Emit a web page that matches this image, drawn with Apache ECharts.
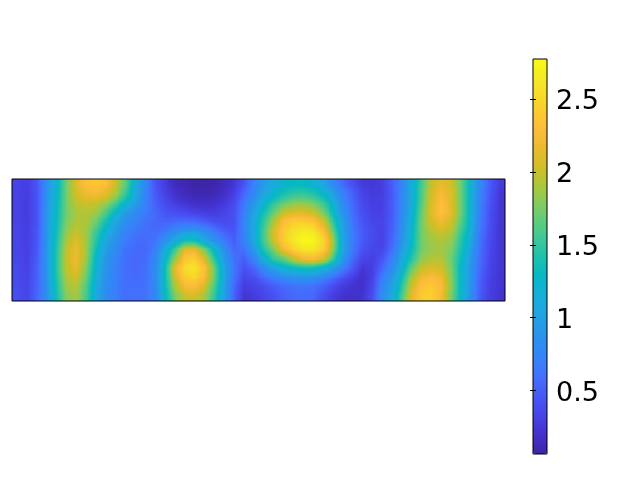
<!DOCTYPE html>
<html><head><meta charset="utf-8">
<script src="https://cdn.jsdelivr.net/npm/echarts@6/dist/echarts.min.js"></script>
<style>
html,body{margin:0;padding:0;background:#fff;width:640px;height:480px;overflow:hidden}
#heatWrap{position:absolute;left:12px;top:179px;width:493px;height:122px;overflow:hidden;filter:url(#parulaMap)}
#heat{width:500px;height:130px;transform-origin:0 0;transform:scale(0.986,0.93846)}
#over{position:absolute;left:0;top:0;width:640px;height:480px}
</style></head><body>
<svg width="0" height="0" style="position:absolute"><filter id="parulaMap" color-interpolation-filters="sRGB" x="0" y="0" width="100%" height="100%"><feComponentTransfer><feFuncR id="fr" type="table"/><feFuncG id="fg" type="table"/><feFuncB id="fb" type="table"/></feComponentTransfer></filter></svg>
<div id="heatWrap"><div id="heat"></div></div>
<div id="over"></div>
<script>
const colorTicks=[0.5,1,1.5,2,2.5];
const valueMin=0.065, valueMax=2.774;
const row0=[.34,.30,.46,.85,1.2,1.72,2.1,2.33,2.38,2.32,2.0,1.68,1.15,.78,.45,.28,.14,.10,.08,.07,.09,.15,.25,.45,.72,.95,1.1,1.22,1.3,1.3,1.2,1.05,.8,.58,.42,.28,.26,.3,.5,.72,1.1,1.55,2.0,2.15,2.05,1.7,1.22,.78,.5,.28];
const row1=[.33,.29,.45,.87,1.22,1.72,2.05,2.2,2.25,2.15,1.9,1.55,1.1,.75,.48,.32,.2,.15,.11,.1,.12,.19,.3,.55,.78,1.02,1.22,1.38,1.48,1.5,1.42,1.28,1.02,.72,.52,.33,.28,.3,.48,.74,1.1,1.6,2.05,2.25,2.1,1.7,1.22,.75,.48,.26];
const row2=[.33,.28,.45,.88,1.25,1.72,1.98,2.05,2.02,1.88,1.6,1.3,1.0,.72,.52,.38,.28,.22,.18,.17,.2,.26,.38,.65,.92,1.2,1.45,1.65,1.78,1.8,1.72,1.52,1.2,.82,.58,.38,.3,.32,.48,.76,1.1,1.62,2.08,2.33,2.12,1.7,1.2,.72,.45,.25];
const row3=[.33,.28,.45,.9,1.3,1.72,1.9,1.95,1.88,1.6,1.25,.98,.8,.68,.55,.45,.4,.36,.32,.28,.28,.33,.42,.7,1.02,1.35,1.68,1.98,2.08,2.1,2.0,1.75,1.35,.88,.6,.4,.32,.32,.48,.78,1.12,1.68,2.12,2.35,2.15,1.7,1.2,.7,.43,.24];
const row4=[.34,.29,.45,.9,1.32,1.75,1.92,1.92,1.72,1.38,1.05,.85,.72,.62,.55,.52,.55,.58,.55,.48,.4,.38,.42,.75,1.1,1.48,1.88,2.3,2.42,2.42,2.35,2.05,1.55,1.0,.65,.45,.35,.33,.5,.8,1.18,1.72,2.05,2.22,2.05,1.65,1.2,.68,.42,.24];
const row5=[.34,.3,.46,.9,1.35,1.82,2.0,1.88,1.55,1.2,.95,.75,.65,.6,.58,.65,.8,.92,.92,.82,.65,.5,.45,.75,1.12,1.55,2.05,2.4,2.58,2.66,2.62,2.32,1.75,1.05,.68,.48,.38,.33,.52,.82,1.22,1.72,1.95,2.05,1.95,1.55,1.15,.65,.4,.24];
const row6=[.35,.3,.47,.9,1.38,1.9,2.1,1.88,1.45,1.05,.85,.68,.6,.58,.62,.85,1.1,1.35,1.35,1.1,.85,.65,.5,.72,1.08,1.55,2.0,2.42,2.62,2.76,2.74,2.52,1.95,1.1,.7,.48,.38,.32,.55,.85,1.25,1.72,1.88,1.92,1.85,1.45,1.1,.62,.38,.24];
const row7=[.35,.31,.48,.92,1.42,1.98,2.18,1.88,1.35,.98,.78,.62,.56,.55,.7,1.1,1.55,2.1,2.15,1.75,1.25,.85,.55,.62,.95,1.42,1.75,2.2,2.48,2.62,2.62,2.45,1.9,1.08,.68,.45,.35,.35,.6,.95,1.32,1.72,1.85,1.88,1.78,1.4,1.02,.6,.37,.24];
const row8=[.36,.31,.5,.92,1.45,2.0,2.2,1.85,1.25,.9,.72,.6,.55,.58,.78,1.25,1.85,2.4,2.45,2.1,1.5,.95,.62,.5,.75,1.12,1.5,1.65,1.95,2.2,2.25,2.05,1.6,.95,.58,.35,.3,.45,.72,1.05,1.45,1.82,1.95,1.95,1.72,1.32,.95,.58,.36,.24];
const row9=[.37,.32,.52,.9,1.45,1.98,2.15,1.78,1.2,.88,.7,.6,.56,.6,.8,1.35,2.15,2.55,2.6,2.35,1.7,1.05,.65,.42,.55,.78,1.02,1.2,1.3,1.35,1.35,1.2,.98,.72,.48,.25,.3,.55,.82,1.15,1.68,2.0,2.1,2.05,1.75,1.25,.9,.55,.35,.24];
const row10=[.38,.33,.52,.88,1.42,1.92,2.05,1.7,1.15,.85,.7,.6,.58,.6,.8,1.35,2.05,2.42,2.5,2.28,1.7,1.05,.62,.34,.42,.55,.68,.78,.85,.88,.85,.75,.6,.44,.3,.2,.32,.68,.95,1.32,1.88,2.2,2.3,2.2,1.8,1.25,.9,.52,.33,.23];
const row11=[.39,.34,.54,.86,1.38,1.85,1.95,1.62,1.1,.82,.68,.6,.6,.62,.78,1.32,1.9,2.22,2.28,2.05,1.6,1.02,.55,.28,.32,.38,.48,.55,.6,.62,.6,.5,.38,.28,.22,.2,.35,.78,1.02,1.45,2.02,2.35,2.42,2.28,1.82,1.25,.88,.5,.31,.23];
const row12=[.4,.35,.55,.85,1.35,1.8,1.88,1.58,1.08,.82,.68,.6,.6,.62,.75,1.28,1.75,2.02,2.05,1.9,1.5,1.0,.52,.24,.28,.34,.42,.52,.56,.58,.55,.42,.3,.22,.2,.22,.4,.82,1.08,1.55,2.1,2.42,2.45,2.22,1.75,1.25,.85,.48,.3,.22];
const rows=[row0,row1,row2,row3,row4,row5,row6,row7,row8,row9,row10,row11,row12];
const parula=['#3e26a8','#4230c9','#4741e5','#4853f4','#4669fc','#3b7efb','#2e8cf2','#2699e7','#21a6e2','#13b0d6','#06b9c4','#1fc1ac','#3ec898','#5ecc7a','#86cc5e','#aec63b','#d0bf27','#eaba2d','#fcbc3c','#fbca2f','#f7dc29','#f5ea24','#f9fb15'];

// The grey heatmap is recoloured by an SVG table so colours follow values between cells.
[['fr',1],['fg',3],['fb',5]].forEach(([id,p])=>{
  document.getElementById(id).setAttribute('tableValues',
    parula.map(h=>(parseInt(h.substr(p,2),16)/255).toFixed(4)).join(' '));
});

const data=[];
rows.forEach((r,j)=>r.forEach((v,i)=>data.push([i,j,v])));
const cols=row0.map((_,i)=>i), ys=rows.map((_,j)=>j);

const heat=echarts.init(document.getElementById('heat'),null,{devicePixelRatio:0.1});
heat.setOption({
  animation:false,
  grid:{left:0,right:0,top:0,bottom:0},
  xAxis:{type:'category',data:cols,show:false},
  yAxis:{type:'category',data:ys,inverse:true,show:false},
  visualMap:{show:false,min:valueMin,max:valueMax,dimension:2,inRange:{color:['#000000','#ffffff']}},
  series:[{type:'heatmap',data:data,progressive:0,emphasis:{disabled:true}}]
});

const over=echarts.init(document.getElementById('over'));
over.setOption({
  animation:false,
  backgroundColor:'transparent',
  grid:[
    {left:12,top:179,width:493,height:122,show:true,z:10,backgroundColor:'transparent',borderColor:'#000',borderWidth:1},
    {left:533,top:59,width:14,height:395,show:true,z:10,backgroundColor:'transparent',borderColor:'#000',borderWidth:1}
  ],
  xAxis:[
    {gridIndex:0,type:'value',min:0,max:1,show:false},
    {gridIndex:1,type:'value',min:0,max:1,show:false}
  ],
  yAxis:[
    {gridIndex:0,type:'value',min:0,max:1,show:false},
    {gridIndex:1,type:'value',min:valueMin,max:valueMax,position:'right',z:12,
     axisLine:{show:false},splitLine:{show:false},
     axisTick:{show:true,inside:true,length:3,lineStyle:{color:'#000'},customValues:colorTicks},
     axisLabel:{show:true,color:'#000',fontFamily:'DejaVu Sans',fontSize:27,margin:9,verticalAlign:'top',lineHeight:7,customValues:colorTicks}},
    {gridIndex:1,type:'value',min:valueMin,max:valueMax,position:'left',z:12,
     axisLine:{show:false},splitLine:{show:false},axisLabel:{show:false},
     axisTick:{show:true,inside:true,length:3,lineStyle:{color:'#000'},customValues:colorTicks}}
  ],
  visualMap:{show:true,type:'continuous',seriesIndex:[],left:533,top:59,padding:0,itemWidth:14,itemHeight:395,
    min:valueMin,max:valueMax,calculable:false,realtime:false,text:null,inRange:{color:parula}},
  series:[]
});
</script>
</body></html>
